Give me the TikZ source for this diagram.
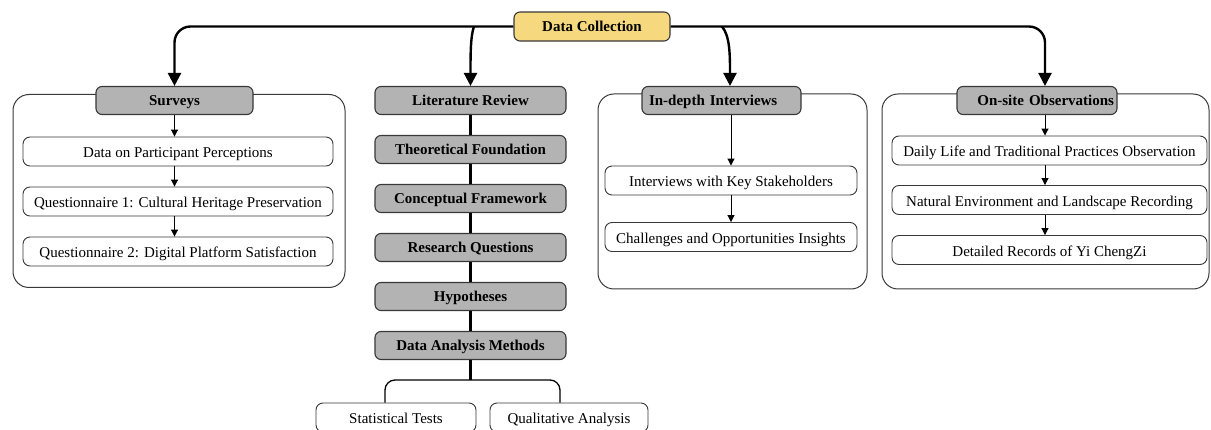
\documentclass[tikz,border=0pt]{standalone}
\usepackage{fontspec}
\setmainfont{Liberation Serif}
\usetikzlibrary{arrows.meta}
\definecolor{hdrgray}{HTML}{B3B3B3}
\definecolor{dcyellow}{HTML}{F6D87E}
\definecolor{edgeclr}{HTML}{383838}

\begin{document}
\begin{tikzpicture}[x=1pt,y=-1pt,
  every node/.style={font=\fontsize{15}{17}\selectfont, inner sep=0pt},
  hdr/.style={draw=edgeclr, line width=1.1pt, fill=hdrgray, rounded corners=6pt,
    minimum height=28pt, text height=10pt, text depth=0pt,
    font=\fontsize{15}{17}\selectfont\bfseries},
  root/.style={hdr, fill=dcyellow, minimum height=29pt},
  item/.style={draw=edgeclr, line width=0.9pt, fill=white, rounded corners=7pt,
    minimum height=29pt, text height=13pt, text depth=0pt},
  group/.style={draw=edgeclr, line width=1pt, rounded corners=16pt},
  bigarrow/.style={line width=2.4pt, -{Triangle[width=13pt,length=13pt]}},
  smallarrow/.style={line width=1pt, -{Triangle[width=7pt,length=7pt]}},
  chain/.style={line width=2.6pt},
  forkline/.style={line width=1.3pt, rounded corners=10pt},
]
\useasboundingbox (0,0) rectangle (1211,430);

% group frames
\node[group, minimum width=332pt, minimum height=193pt] (gsurv) at (179,191) {};
\node[group, minimum width=269pt, minimum height=195pt] (gintv) at (732.5,191.5) {};
\node[group, minimum width=327pt, minimum height=195pt] (gobs) at (1045.5,191.5) {};

% root
\node[root, minimum width=156pt] (dc) at (592,26.5) {Data Collection};

% surveys
\node[hdr, minimum width=157pt] (surv) at (174.5,100.5) {Surveys};
\node[item, minimum width=310pt] (s1) at (178,151.5) {Data on Participant Perceptions};
\node[item, minimum width=310pt] (s2) at (178,201.5) {Questionnaire 1: Cultural Heritage Preservation};
\node[item, minimum width=310pt] (s3) at (178,251.5) {Questionnaire 2: Digital Platform Satisfaction};

% literature column
\node[hdr, minimum width=191pt] (lit) at (470.5,100.5) {Literature Review};
\node[hdr, minimum width=191pt] (theo) at (470.5,149.5) {Theoretical Foundation};
\node[hdr, minimum width=191pt] (conc) at (470.5,198.5) {Conceptual Framework};
\node[hdr, minimum width=191pt] (rq) at (470.5,247.5) {Research Questions};
\node[hdr, minimum width=191pt] (hyp) at (470.5,296.5) {Hypotheses};
\node[hdr, minimum width=191pt] (dam) at (470.5,345.5) {Data Analysis Methods};
\node[item, minimum width=160pt] (stat) at (396,417.5) {Statistical Tests};
\node[item, minimum width=158pt] (qual) at (569,417.5) {Qualitative Analysis};

% interviews
\node[hdr, minimum width=159pt, text width=145pt, align=left] (intv) at (721.5,100.5) {In-depth Interviews};
\node[item, minimum width=252pt] (i1) at (731,180.5) {Interviews with Key Stakeholders};
\node[item, minimum width=252pt] (i2) at (731,237) {Challenges and Opportunities Insights};

% observations
\node[hdr, minimum width=160pt, text width=154pt, align=right] (obs) at (1037,100.5) {On-site Observations};
\node[item, minimum width=315pt] (o1) at (1049.5,150.5) {Daily Life and Traditional Practices Observation};
\node[item, minimum width=315pt] (o2) at (1049.5,200) {Natural Environment and Landscape Recording};
\node[item, minimum width=315pt] (o3) at (1049.5,250) {Detailed Records of Yi ChengZi};

% branches from the root
\coordinate (blit) at (474,26.5);
\coordinate (bint) at (722,26.5);
\draw[bigarrow, rounded corners=16pt] (dc.west) -| (surv.north);
\draw[bigarrow, rounded corners=16pt] (dc.east) -| ([xshift=8pt]obs.north);
\draw[bigarrow] (blit) .. controls (470.5,36) and (470.5,55) .. (lit.north);
\draw[bigarrow] (bint) .. controls (730,36) and (730,55) .. ([xshift=8.5pt]intv.north);

% surveys chain
\draw[smallarrow] (surv.south) -- (surv.south |- s1.north);
\draw[smallarrow] (s1.south -| surv.south) -- (s2.north -| surv.south);
\draw[smallarrow] (s2.south -| surv.south) -- (s3.north -| surv.south);

% literature chain
\draw[chain] (lit.south) -- (theo.north);
\draw[chain] (theo.south) -- (conc.north);
\draw[chain] (conc.south) -- (rq.north);
\draw[chain] (rq.south) -- (hyp.north);
\draw[chain] (hyp.south) -- (dam.north);
\coordinate (fork) at (470.5,380);
\draw[chain] (dam.south) -- (fork);
\draw[forkline] ([xshift=-11pt]stat.north) |- (fork) -| ([xshift=-9pt]qual.north);

% interviews chain
\draw[smallarrow] (i1.north |- intv.south) -- (i1.north);
\draw[smallarrow] (i1.south) -- (i2.north);

% observations chain
\draw[smallarrow] ([xshift=8pt]obs.south) -- ([xshift=8pt]obs.south |- o1.north);
\draw[smallarrow] (o1.south -| obs.south) ++(8pt,0) coordinate (o1s) -- (o1s |- o2.north);
\draw[smallarrow] (o2.south -| obs.south) ++(8pt,0) coordinate (o2s) -- (o2s |- o3.north);
\end{tikzpicture}
\end{document}
